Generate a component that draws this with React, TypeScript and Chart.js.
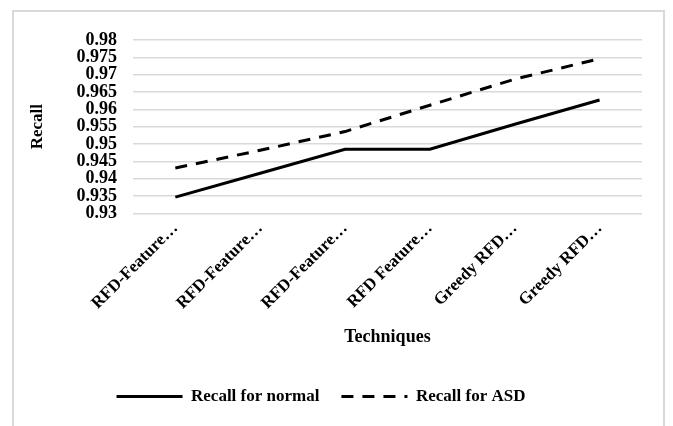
import React, { useEffect, useRef } from "react";
import { Chart, registerables } from "chart.js";

Chart.register(...registerables);

const categories = [
  "RFD-Feature…",
  "RFD-Feature…",
  "RFD-Feature…",
  "RFD Feature…",
  "Greedy RFD…",
  "Greedy RFD…",
];
const recallNormal = [0.9347, 0.9416, 0.9485, 0.9485, 0.9557, 0.9627];
const recallASD = [0.9431, 0.9482, 0.9536, 0.9612, 0.9687, 0.9746];
const yMin = 0.93;
const yMax = 0.98;
const yStep = 0.005;

const FONT = '"Liberation Serif", "Times New Roman", serif';

export default function App() {
  const ref = useRef<HTMLCanvasElement | null>(null);

  useEffect(() => {
    if (!ref.current) return;
    const chart = new Chart(ref.current, {
      type: "line",
      data: {
        labels: categories,
        datasets: [
          {
            label: "Recall for normal",
            data: recallNormal,
            borderColor: "#000000",
            backgroundColor: "#000000",
            borderWidth: 3,
            pointRadius: 0,
            tension: 0,
          },
          {
            label: "Recall for ASD",
            data: recallASD,
            borderColor: "#000000",
            backgroundColor: "#000000",
            borderWidth: 3,
            borderDash: [12, 9],
            pointRadius: 0,
            tension: 0,
          },
        ],
      },
      options: {
        animation: false,
        responsive: false,
        devicePixelRatio: 1,
        layout: { padding: { top: 40, right: 31, bottom: 11, left: 0 } },
        plugins: {
          tooltip: { enabled: false },
          legend: {
            position: "bottom",
            labels: {
              usePointStyle: true,
              pointStyle: "line",
              pointStyleWidth: 66,
              padding: 22,
              color: "#000000",
              font: { family: FONT, size: 17, weight: "bold" },
              generateLabels: (c: any) =>
                c.data.datasets.map((ds: any, i: number) => ({
                  text: ds.label,
                  datasetIndex: i,
                  fillStyle: "#000000",
                  strokeStyle: "#000000",
                  fontColor: "#000000",
                  lineWidth: 3,
                  lineDash: ds.borderDash || [],
                  lineCap: "butt",
                  pointStyle: "line",
                  hidden: false,
                })),
            },
          },
        },
        scales: {
          x: {
            offset: true,
            afterFit: (scale: any) => {
              scale.paddingLeft = 0;
              scale.paddingRight = 0;
            },
            grid: { display: false, drawTicks: false },
            border: { display: false },
            ticks: {
              minRotation: 45,
              maxRotation: 45,
              autoSkip: false,
              padding: 5,
              color: "#000000",
              font: { family: FONT, size: 17, weight: "bold" },
            },
            title: {
              display: true,
              text: "Techniques",
              color: "#000000",
              font: { family: FONT, size: 18, weight: "bold" },
              padding: { top: 8, bottom: 18 },
            },
          },
          y: {
            min: yMin,
            max: yMax,
            grid: { color: "#d9d9d9", lineWidth: 1.5, drawTicks: false },
            border: { display: false },
            ticks: {
              stepSize: yStep,
              autoSkip: false,
              padding: 16,
              color: "#000000",
              font: { family: FONT, size: 18, weight: "bold" },
              callback: (v: any) => Number(Number(v).toFixed(3)).toString(),
            },
            title: {
              display: true,
              text: "Recall",
              color: "#000000",
              font: { family: FONT, size: 17, weight: "bold" },
              padding: { top: 27, bottom: 13 },
            },
          },
        },
      },
    });
    return () => chart.destroy();
  }, []);

  return (
    <div style={{ position: "absolute", left: 0, top: 0, width: 673, height: 426, overflow: "hidden", background: "#ffffff" }}>
      <div
        style={{
          position: "absolute",
          left: 12,
          top: 10,
          width: 649,
          height: 440,
          border: "2px solid #d9d9d9",
          boxSizing: "content-box",
        }}
      />
      <canvas ref={ref} width={673} height={426} style={{ position: "absolute", left: 0, top: 0, width: 673, height: 426 }} />
    </div>
  );
}
